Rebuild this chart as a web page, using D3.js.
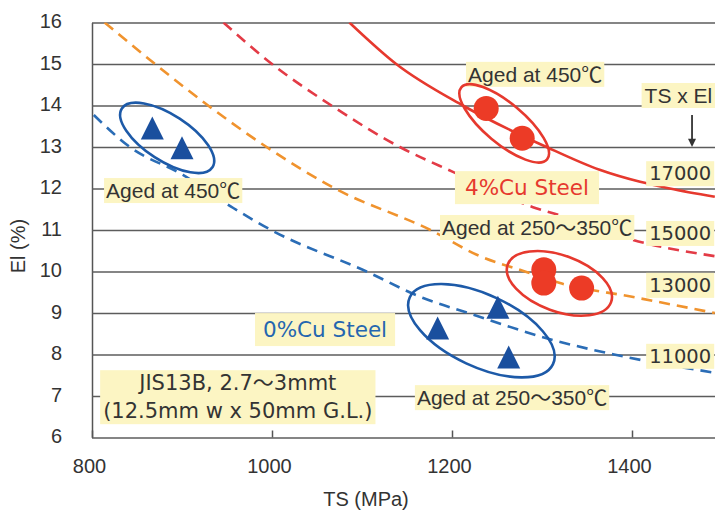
<!DOCTYPE html>
<html>
<head>
<meta charset="utf-8">
<script src="https://cdn.jsdelivr.net/npm/d3@7"></script>
<style>
  body { margin: 0; background: #fff; }
  svg { display: block; }
  text { font-family: "Liberation Sans", Arial, "Noto Sans CJK JP", sans-serif; fill: #333; }
</style>
</head>
<body>
<div id="chart"></div>
<script>
// axis ticks
let xTicks = [800, 1000, 1200, 1400];
let yTicks = [6, 7, 8, 9, 10, 11, 12, 13, 14, 15, 16];

// TS x El guide curves as [TS, El]
let curve11000 = [[802, 13.77], [842, 13.0], [901, 12.33], [957, 11.53], [999, 11.0], [1105, 10.0],
  [1168, 9.36], [1218, 9.0], [1312, 8.35], [1380, 8.0], [1492, 7.56]];
let curve13000 = [[814, 16.0], [870, 15.0], [929, 14.0], [994, 13.0], [1070, 12.0], [1176, 11.0],
  [1231, 10.37], [1281, 10.0], [1320, 9.72], [1400, 9.39], [1492, 9.0]];
let curve15000 = [[946, 16.0], [1000, 15.0], [1066, 14.0], [1142, 13.0], [1201, 12.4], [1290, 11.55],
  [1328, 11.3], [1401, 10.76], [1492, 10.37]];
let curve17000 = [[1086, 16.0], [1138, 15.0], [1212, 14.0], [1305, 13.0], [1364, 12.45], [1409, 12.16],
  [1442, 12.0], [1492, 11.8]];
let curveLabels = ["17000", "15000", "13000", "11000"];

// measured points [TS, El]
let cu0At450 = [[867, 13.46], [900, 12.98]];
let cu0At250 = [[1184, 8.64], [1251, 9.14], [1263, 7.94]];
let cu4At450 = [[1238, 13.93], [1278, 13.21]];
let cu4At250 = [[1302, 10.04], [1302, 9.72], [1344, 9.6]];

let svgWidth = 715;
let svgHeight = 510;
let margin = { top: 22.5, left: 92 };
let width = 540;                        // 800 .. 1400
let height = 415;                       // 6 .. 16
let plotW = svgWidth - margin.left;     // plot runs off the right edge

let blue = "#1d5aa8";
let red = "#e6392e";
let labelFill = "#fcf5c3";

let svg = d3.select("#chart").append("svg")
  .attr("width", svgWidth)
  .attr("height", svgHeight);

let chartGroup = svg.append("g")
  .attr("transform", `translate(${margin.left}, ${margin.top})`);

let x = d3.scaleLinear().domain([800, 1400]).range([0, width]);
let y = d3.scaleLinear().domain([6, 16]).range([height, 0]);

svg.append("defs").append("clipPath").attr("id", "plot")
  .append("rect").attr("width", plotW).attr("height", height);

// y axis with full-width gridlines
let yAxis = chartGroup.append("g")
  .call(d3.axisLeft(y).tickValues(yTicks).tickSize(-plotW).tickSizeOuter(0).tickPadding(30));
yAxis.select(".domain").attr("stroke", "#555").attr("stroke-width", 1.5);
yAxis.selectAll(".tick line").attr("stroke", "#5c5c5c").attr("stroke-width", 1.3);
yAxis.selectAll("text").style("font-size", "20px").attr("dy", "0.25em");

// x axis, short ticks pointing up
let xAxis = chartGroup.append("g")
  .attr("transform", `translate(0, ${height})`)
  .call(d3.axisBottom(x).tickValues(xTicks).tickFormat(d3.format("d")).tickSize(-7).tickPadding(21));
xAxis.select(".domain").remove();
xAxis.selectAll(".tick line").attr("stroke", "#555").attr("stroke-width", 1.5);
xAxis.selectAll("text").style("font-size", "20px").attr("dx", -3);

// axis titles
svg.append("text")
  .attr("x", 366).attr("y", 506)
  .attr("text-anchor", "middle")
  .style("font-size", "20px")
  .text("TS (MPa)");
svg.append("text")
  .attr("transform", "translate(25, 246) rotate(-90)")
  .attr("text-anchor", "middle")
  .style("font-size", "20px")
  .text("El (%)");

// guide curves
let line = d3.line()
  .x(d => x(d[0]))
  .y(d => y(d[1]))
  .curve(d3.curveMonotoneX);

let curveGroup = chartGroup.append("g").attr("clip-path", "url(#plot)");
let curves = [
  { data: curve11000, color: "#2b6db6", dash: "11,7" },
  { data: curve13000, color: "#f0932e", dash: "11,7" },
  { data: curve15000, color: "#e33b46", dash: "11,7" },
  { data: curve17000, color: red, dash: null }
];
curves.forEach(c => {
  curveGroup.append("path")
    .datum(c.data)
    .attr("d", line)
    .attr("fill", "none")
    .attr("stroke", c.color)
    .attr("stroke-width", 2.6)
    .attr("stroke-dasharray", c.dash);
});

// yellow annotation boxes
function addLabel(lines, ts, el, o) {
  let g = chartGroup.append("g");
  let t = g.append("text")
    .attr("x", x(ts)).attr("y", y(el))
    .attr("text-anchor", o.anchor || "start")
    .style("font-size", o.size + "px")
    .style("font-family", o.font || null)
    .style("fill", o.color || "#333");
  lines.forEach((s, i) => {
    t.append("tspan").attr("x", x(ts)).attr("dy", i ? o.lead : 0).text(s);
  });
  let b = t.node().getBBox();
  g.insert("rect", "text")
    .attr("x", b.x - o.px).attr("y", b.y - o.py)
    .attr("width", b.width + 2 * o.px).attr("height", b.height + 2 * o.py)
    .attr("fill", labelFill);
}

let cuFont = "'DejaVu Sans', 'Noto Sans CJK JP', sans-serif";
let numFont = "'DejaVu Sans', sans-serif";

addLabel(["Aged at 450℃"], 815.6, 11.77, { size: 21, px: 2, py: 1 });
addLabel(["Aged at 450℃"], 1217.8, 14.57, { size: 21, px: 2, py: 1 });
addLabel(["4%Cu Steel"], 1214.4, 11.84, { size: 21.5, font: cuFont, color: red, px: 10, py: 4 });
addLabel(["Aged at 250～350℃"], 1188.9, 10.88, { size: 21, px: 2, py: 1 });
addLabel(["0%Cu Steel"], 990, 8.42, { size: 21.5, font: cuFont, color: "#2466b0", px: 8, py: 4 });
addLabel(["JIS13B, 2.7～3mmt", "(12.5mm w x 50mm G.L.)"], 962, 7.14,
  { size: 21, font: cuFont, anchor: "middle", lead: 28, px: 3, py: 1 });
addLabel(["Aged at 250～350℃"], 1161, 6.78, { size: 21, px: 2, py: 1 });
addLabel(["TS x El"], 1414, 14.06, { size: 21, px: 3, py: 1 });
// the curve values sit at the right edge, kept just inside the window
let labelEl = [12.2, 10.76, 9.51, 7.8];
curveLabels.forEach((s, i) => {
  addLabel([s], 1488, labelEl[i], { size: 19.5, font: numFont, anchor: "end", px: 3, py: 1 });
});

// arrow under "TS x El"
let ax = x(1466.7);
chartGroup.append("line")
  .attr("x1", ax).attr("x2", ax)
  .attr("y1", y(13.77)).attr("y2", y(13.15))
  .attr("stroke", "#333").attr("stroke-width", 1.8);
chartGroup.append("path")
  .attr("d", `M${ax - 4},${y(13.2)} L${ax + 4},${y(13.2)} L${ax},${y(13.0)} Z`)
  .attr("fill", "#333");

// group ellipses, centred on the group mean
let groups = [
  { data: cu0At450, color: blue, rx: 54, ry: 23, rot: 33, dx: 0, dy: 0 },
  { data: cu0At250, color: blue, rx: 79, ry: 36, rot: 25, dx: 0, dy: 0 },
  { data: cu4At450, color: red, rx: 56, ry: 20, rot: 40, dx: 0, dy: 0 },
  { data: cu4At250, color: red, rx: 55, ry: 28, rot: 20, dx: 3, dy: 3 }
];
groups.forEach(g => {
  let cx = d3.mean(g.data, d => x(d[0])) + g.dx;
  let cy = d3.mean(g.data, d => y(d[1])) + g.dy;
  chartGroup.append("ellipse")
    .attr("transform", `translate(${cx}, ${cy}) rotate(${g.rot})`)
    .attr("rx", g.rx).attr("ry", g.ry)
    .attr("fill", "none")
    .attr("stroke", g.color)
    .attr("stroke-width", 2.6);
});

// 0%Cu: triangles
chartGroup.selectAll(".tri")
  .data(cu0At450.concat(cu0At250))
  .enter()
  .append("path")
  .attr("class", "tri")
  .attr("d", "M0,-11.5L11.5,11.5L-11.5,11.5Z")
  .attr("transform", d => `translate(${x(d[0])}, ${y(d[1])})`)
  .attr("fill", "#1a4f9e");

// 4%Cu: circles
chartGroup.selectAll(".dot")
  .data(cu4At450.concat(cu4At250))
  .enter()
  .append("circle")
  .attr("class", "dot")
  .attr("cx", d => x(d[0]))
  .attr("cy", d => y(d[1]))
  .attr("r", 12.5)
  .attr("fill", "#ec3b26");
</script>
</body>
</html>
